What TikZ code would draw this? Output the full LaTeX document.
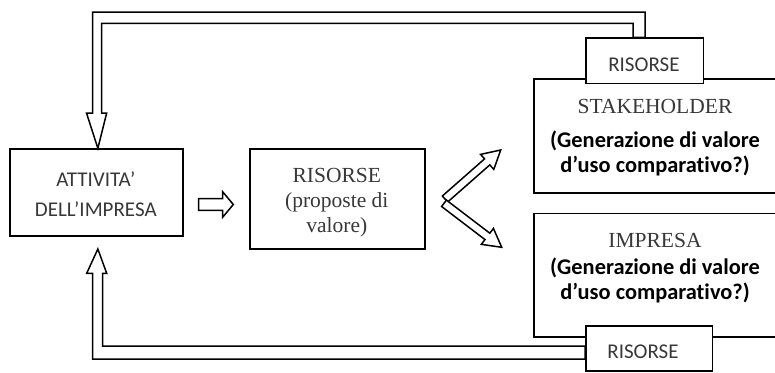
\documentclass[tikz,border=0pt]{standalone}
\usepackage{fontspec}
\newfontfamily\calfont[Ligatures=CommonOff]{Carlito}
\newfontfamily\tmsfont{Liberation Serif}
\usetikzlibrary{calc}
\newcommand{\hollowarrow}[5]{% tail, tip, shaft half-width, head half-width, head length
  \coordinate (ha-h) at ($(#2)!#5pt!(#1)$);
  \draw[arrowline] ($(#1)!#3pt!90:(#2)$) -- ($(ha-h)!#3pt!-90:(#1)$) -- ($(ha-h)!#4pt!-90:(#1)$) -- (#2)
     -- ($(ha-h)!#4pt!90:(#1)$) -- ($(ha-h)!#3pt!90:(#1)$) -- ($(#1)!#3pt!-90:(#2)$) -- cycle;}
\tikzset{
  box/.style={draw, line width=1.7pt, fill=white, inner sep=0pt, anchor=north west},
  arrowline/.style={draw, line width=1.5pt, line join=miter, fill=white},
  sanslbl/.style={font={\calfont\fontsize{21}{25}\selectfont}, text=black!78, anchor=base, inner sep=0pt},
  seriflbl/.style={font={\tmsfont\fontsize{21.5}{25}\selectfont}, text=black!78, anchor=base, inner sep=0pt},
  boldlbl/.style={font={\calfont\bfseries\fontsize{22.4}{25}\selectfont}, text=black, anchor=base, inner sep=0pt},
}
\begin{document}
\begin{tikzpicture}[x=1pt,y=-1pt]
\clip (0,0) rectangle (775,372);
\fill[white] (0,0) rectangle (775,372);

% boxes
\node[box, minimum width=173pt, minimum height=86.7pt] (att) at (9.3,148.3) {};
\node[box, minimum width=175pt, minimum height=100pt] (mid) at (249.3,148.3) {};
\node[box, minimum width=280pt, minimum height=113.7pt] (stk) at (533,78.3) {};
\node[box, minimum width=280pt, minimum height=123.3pt] (imp) at (533,212.7) {};

% top feedback band
\coordinate (ttip) at ($(att.north)+(1.2,0)$);
\coordinate (tendr) at (645,37.3);
\coordinate (tendl) at (633,37.3);
\draw[arrowline] (92.7,113) -- (92.7,12) -- (645,12) -- (tendr) -- (tendl)
   -- (633,23.3) -- (101.7,23.3) -- (101.7,113) -- (106.7,113) -- (ttip) -- (86.5,113) -- cycle;

% bottom feedback band
\coordinate (btip) at ($(att.south)+(1.2,12.3)$);
\coordinate (bendt) at (585,346);
\coordinate (bendb) at (585,359);
\draw[arrowline] (102.5,273.3) -- (102.5,346) -- (bendt) -- (bendb) -- (92.7,359)
   -- (92.7,273.3) -- (86.7,273.3) -- (btip) -- (106.7,273.3) -- cycle;

% small boxes
\node[box, minimum width=117.7pt, minimum height=45.4pt] (rtop) at (585,37.3) {};
\node[box, minimum width=126.7pt, minimum height=45pt] (rbot) at (585,325) {};

% arrows
\coordinate (a1) at (198.7,204.5);
\coordinate (a2) at (233.3,204.5);
\hollowarrow{a1}{a2}{5.9}{12.8}{10.7}
\coordinate (u1) at (445,199);
\coordinate (u2) at (500.7,150);
\hollowarrow{u1}{u2}{4}{10}{18}
\coordinate (l1) at (444,203.3);
\coordinate (l2) at (501.7,247.3);
\hollowarrow{l1}{l2}{4}{10}{18}

% texts
\node[sanslbl] (att1) at (95.8,186.7) {ATTIVITA’};
\node[sanslbl] (att2) at (95.8,216) {DELL’IMPRESA};
\node[seriflbl] (mid1) at (336.8,182.3) {RISORSE};
\node[seriflbl] (mid2) at (336.8,207.5) {(proposte di};
\node[seriflbl] (mid3) at (336.8,232) {valore)};
\node[seriflbl] (stk1) at (655,113.3) {STAKEHOLDER};
\node[boldlbl] (stk2) at (655,147) {(Generazione di valore};
\node[boldlbl] (stk3) at (655,172) {d’uso comparativo?)};
\node[seriflbl] (imp1) at (655,247.5) {IMPRESA};
\node[boldlbl] (imp2) at (655,274) {(Generazione di valore};
\node[boldlbl] (imp3) at (655,299) {d’uso comparativo?)};
\node[sanslbl] (rtop1) at (643.9,71) {RISORSE};
\node[sanslbl] (rbot1) at (643,358) {RISORSE};
\end{tikzpicture}
\end{document}
